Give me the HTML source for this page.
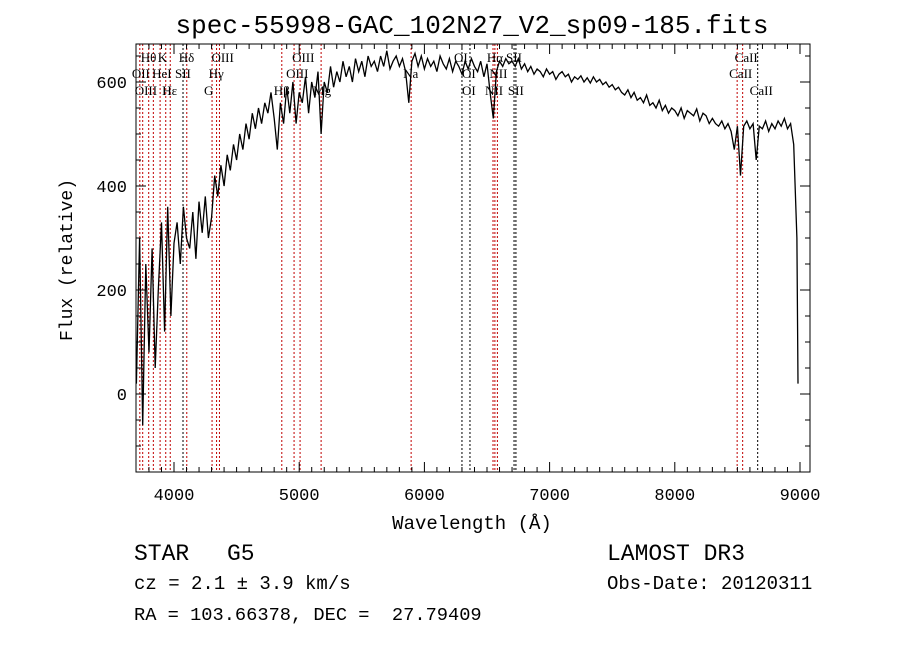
<!DOCTYPE html>
<html><head><meta charset="utf-8"><style>
body{margin:0;background:#fff;width:900px;height:649px;overflow:hidden}
svg{display:block}
text{font-family:"Liberation Mono",monospace;fill:#000}
.lab{font-family:"Liberation Serif",serif;font-size:13px}
</style></head><body>
<svg id="c" width="900" height="649"></svg>
<script>
const flux=[20,300,-60,250,80,280,50,200,330,120,360,150,290,330,250,360,300,280,350,260,370,310,380,300,340,420,380,440,400,460,430,480,450,500,470,520,490,540,510,550,520,560,540,580,530,470,560,520,590,540,600,520,580,560,610,540,600,570,620,500,600,580,630,590,620,600,640,610,630,600,645,620,640,610,650,630,640,620,650,630,660,625,640,650,630,645,620,560,640,655,630,650,625,645,630,640,620,650,635,625,645,620,640,630,615,640,625,645,630,620,640,610,635,580,530,620,640,630,645,635,640,630,645,625,635,620,630,615,625,620,610,625,615,620,605,615,620,610,615,600,610,605,612,600,608,598,610,600,605,595,600,590,595,585,590,580,575,585,570,580,565,570,560,575,555,560,550,565,545,555,540,550,545,535,550,530,545,540,535,548,525,540,535,520,530,520,515,525,510,520,505,470,515,420,515,525,510,520,450,515,510,525,505,520,510,525,515,530,510,520,480,300,20];
const waveStart=3700, waveStep=25;
const lineWaves=[3727,3750,3798,3835,3889,3934,3970,4072,4102,4304,4340,4363,4861,4959,5007,5175,5894,6300,6364,6548,6563,6583,6716,6731,8498,8542,8662];
const lineColors=['r','r','r','r','r','r','r','k','r','r','r','r','r','r','r','r','r','k','k','r','r','r','k','k','r','r','k'];
const labels=[["Hθ",3798,58],["K",3934,58],["Hδ",4102,58],["OIII",4363,58],["OIII",5007,58],["OI",6300,58],["Hα",6563,58],["SII",6716,58],["CaII",8542,58],
["OII",3727,74],["HeI",3889,74],["SII",4072,74],["Hγ",4340,74],["OIII",4959,74],["Na",5894,74],["OI",6364,74],["NII",6583,74],["CaII",8498,74],
["OIII",3750,91],["Hε",3970,91],["H",3970,91],["G",4304,91],["Hβ",4861,91],["Mg",5175,91],["OI",6364,91],["NII",6548,91],["SII",6731,91],["CaII",8662,91]];
const xTicks=[4000,5000,6000,7000,8000,9000];
const yTicks=[0,200,400,600];
const X0=136,X1=810,Y0=44,Y1=472;
const xs=w=>174+(w-4000)*0.1252;
const ys=f=>394-f*0.52;
const svg=document.getElementById('c');
const NS='http://www.w3.org/2000/svg';
function mk(t,a,txt){const e=document.createElementNS(NS,t);for(const k in a)e.setAttribute(k,a[k]);if(txt!=null)e.textContent=txt;svg.appendChild(e);return e;}
lineWaves.forEach((w,i)=>{const e=mk('line',{x1:xs(w),x2:xs(w),y1:Y0,y2:Y1,stroke:lineColors[i]=='r'?'#c00000':'#000','stroke-width':1,'stroke-dasharray':'2,2'});

});
labels.forEach(l=>{const e=mk('text',{x:xs(l[1])-8,y:l[2]+4,class:'lab'},l[0]);

});
const pts=flux.map((f,i)=>{const y=Math.max(Y0,Math.min(Y1,ys(f)));return Math.min(X1-12,xs(waveStart+i*waveStep)).toFixed(1)+','+y.toFixed(1);}).join(' ');
const sp=mk('polyline',{points:pts,fill:'none',stroke:'#000','stroke-width':1.3});


const fr=mk('rect',{x:X0,y:Y0,width:X1-X0,height:Y1-Y0,fill:'none',stroke:'#000','stroke-width':1});


for(let w=3800;w<=9000;w+=100){const x=xs(w);const L=(w%1000==0)?10:5;
mk('line',{x1:x,x2:x,y1:Y1,y2:Y1-L,stroke:'#000'});mk('line',{x1:x,x2:x,y1:Y0,y2:Y0+L,stroke:'#000'});}
for(let f=-150;f<=650;f+=50){const y=ys(f);const L=(f%200==0)?10:5;
mk('line',{x1:X0,x2:X0+L,y1:y,y2:y,stroke:'#000'});mk('line',{x1:X1,x2:X1-L,y1:y,y2:y,stroke:'#000'});}
xTicks.forEach(t=>{const e=mk('text',{x:xs(t),y:500,'font-size':17,'text-anchor':'middle'},t);

});
yTicks.forEach(t=>{const e=mk('text',{x:127,y:ys(t)+6,'font-size':17,'text-anchor':'end'},t);

});
</script>
<svg width="900" height="649" style="position:absolute;left:0;top:0">
<text x="472" y="33" font-size="26" text-anchor="middle">spec-55998-GAC_102N27_V2_sp09-185.fits</text>
<text x="472" y="529" font-size="19" text-anchor="middle">Wavelength (Å)</text>
<text transform="translate(72,260) rotate(-90)" font-size="18" text-anchor="middle">Flux (relative)</text>
<text x="134" y="560" font-size="23">STAR</text>
<text x="227" y="560" font-size="23">G5</text>
<text x="134" y="589" font-size="19">cz = 2.1 ± 3.9 km/s</text>
<text x="134" y="620" font-size="18.7" xml:space="preserve">RA = 103.66378, DEC =  27.79409</text>
<text x="607" y="560" font-size="23">LAMOST DR3</text>
<text x="607" y="589" font-size="19">Obs-Date: 20120311</text>
</svg>
</body></html>
